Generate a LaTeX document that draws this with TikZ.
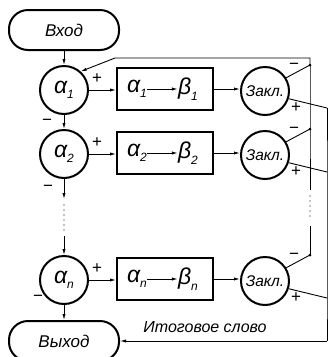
\documentclass[tikz,border=0pt]{standalone}
\usepackage{fontspec}
\setmainfont{Liberation Sans}
\usetikzlibrary{arrows.meta,calc}
\newcommand{\mysub}[1]{\raisebox{-0.45ex}{\fontsize{12}{12}\selectfont #1}}
\begin{document}
\begin{tikzpicture}[x=1pt,y=-1pt,font=\itshape,
  shp/.style={draw,line width=2pt},
  ln/.style={line width=0.9pt},
  arr/.style={ln,-{Latex[length=6pt,width=3.2pt]}},
  stad/.style={shp,rounded corners=19pt,minimum width=110pt,minimum height=40pt,inner sep=0pt,font=\itshape\fontsize{17}{17}\selectfont},
  circ/.style={shp,circle,minimum size=48pt,inner sep=0pt},
  al/.style={font=\itshape\fontsize{23}{23}\selectfont},
  zk/.style={circ,font=\itshape\fontsize{15.5}{15.5}\selectfont},
  boxn/.style={shp,minimum width=96pt,minimum height=42pt,inner sep=0pt},
  sg/.style={font=\fontsize{17}{17}\selectfont,inner sep=0pt},
  jd/.style={circle,fill,inner sep=0pt,minimum size=3pt},
  dts/.style={line width=1.4pt,line cap=round,dash pattern=on 0pt off 5pt}
]
\useasboundingbox (0,0) rectangle (328,357);

\node[stad] (in) at (64,30) {Вход};
\node[stad] (out) at (64,341) {Выход};

\foreach \i/\y in {1/90,2/154,n/280} {
  \node[circ,al] (a\i) at (64,\y) {α\mysub{\i}};
  \node[boxn] (b\i) at (165,\y-1) {};
  \node[al,inner sep=0pt] (b\i a) at ($(b\i.center)+(-28,0)$) {α\mysub{\i}};
  \node[al,inner sep=0pt] (b\i b) at ($(b\i.center)+(23,0)$) {β\mysub{\i}};
  \draw[arr] (b\i a) -- (b\i b);
  \node[zk] (z\i) at (265,\y+1) {Закл.};
  \draw[arr] (a\i.east) -- (a\i.east -| b\i.west);
  \draw[arr] (b\i.east) -- (b\i.east -| z\i.west);
  \coordinate (m\i) at (310,\y-25);
  \coordinate (p\i) at (327,\y+18);
  \draw[ln] (z\i.32) -- (m\i);
  \draw[ln] (z\i.-18) -- (p\i);
  \node[jd] at (m\i) {};
  \node[sg] at (97,\y-11) {+};
  \node[sg] at (294,\y-24) {−};
  \node[sg] at (296,\y+18) {+};
}

% minus labels at alpha nodes
\node[sg] at (47,122) {−};
\node[sg] at (48,188) {−};
\node[sg] at (38,298) {−};

% left vertical chain
\coordinate (d1) at (64,199);
\coordinate (d2) at (64,205);
\coordinate (d3) at (64,230);
\coordinate (d4) at (64,236);
\draw[arr] (in) -- (a1);
\draw[arr] (a1) -- (a2);
\draw[arr] (a2) -- (d1);
\draw[dts] (d2) -- (d3);
\draw[arr] (d4) -- (an);
\draw[arr] (an) -- (out);

% feedback (minus) bus
\coordinate (tr) at (310,58);
\coordinate (tl) at (115,58);
\coordinate (e1) at (310,190);
\coordinate (e2) at (310,196);
\coordinate (e3) at (310,220);
\coordinate (e4) at (310,226);
\draw[arr] (m1) -- (tr) -- (tl) -- (a1.48);
\draw[ln] (m1) -- (m2) -- (e1);
\draw[dts] (e2) -- (e3);
\draw[ln] (e4) -- (mn);

% result (plus) bus
\coordinate (br) at (327,341);
\draw[ln] (p1) -- (p2) -- (pn) -- (br);
\draw[arr] (br) -- (out.east);
\node[font=\itshape\fontsize{16}{16}\selectfont,inner sep=0pt] (lbl) at (205,327) {Итоговое слово};
\end{tikzpicture}
\end{document}
